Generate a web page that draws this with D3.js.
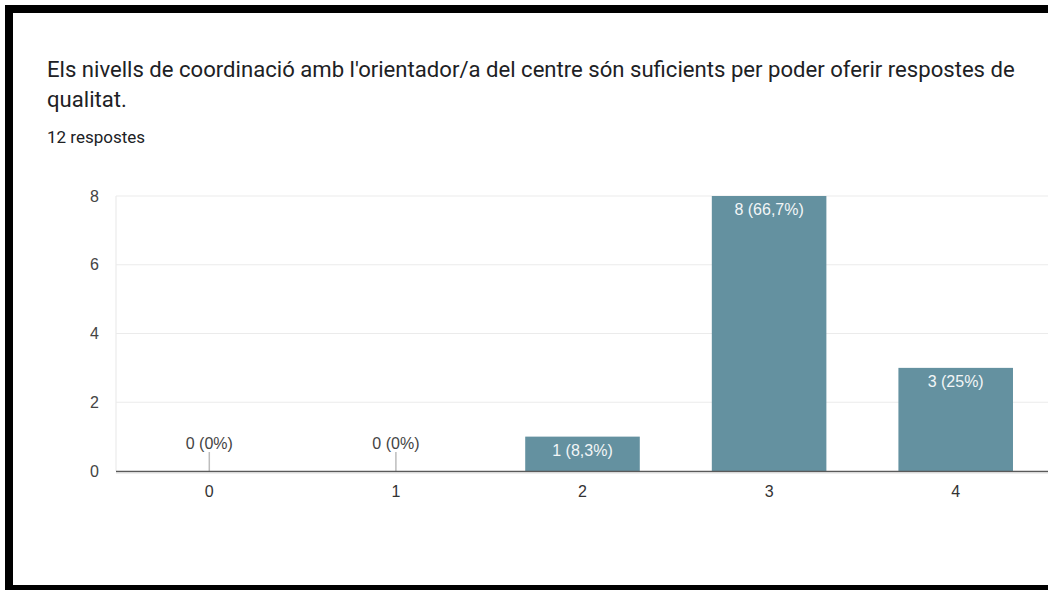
<!DOCTYPE html>
<html>
<head>
<meta charset="utf-8">
<script src="https://cdn.jsdelivr.net/npm/d3@7"></script>
<style>
html,body{margin:0;padding:0;background:#fff;}
svg{display:block;font-family:Roboto,"Noto Sans",Arial,sans-serif;}
</style>
</head>
<body>
<svg id="chart" width="1048" height="590"></svg>
<script>
const titleLines = ["Els nivells de coordinació amb l'orientador/a del centre són suficients per poder oferir respostes de", "qualitat."];
const subtitle = "12 respostes";
const categories = ["0", "1", "2", "3", "4"];
const counts = [0, 0, 1, 8, 3];
const percentLabels = ["0%", "0%", "8,3%", "66,7%", "25%"];
const yTicks = [0, 2, 4, 6, 8];

const svg = d3.select("#chart");
const W = 1048, H = 590;
const chartFont = "'Liberation Sans',Arial,sans-serif";

svg.append("rect").attr("width", W).attr("height", H).attr("fill", "#fff");

// Title
const t1 = svg.append("text").attr("x", 47).attr("y", 77)
  .attr("fill", "#202124").attr("font-size", 20).text(titleLines[0]);
const len = t1.node().getComputedTextLength();
const fs = 20 * 968 / len;
t1.attr("font-size", fs);
svg.append("text").attr("x", 47).attr("y", 107)
  .attr("fill", "#202124").attr("font-size", fs).text(titleLines[1]);
svg.append("text").attr("x", 47).attr("y", 143)
  .attr("fill", "#202124").attr("font-size", 17).text(subtitle);

// Scales
const plotLeft = 116, plotRight = 1049;
const x = d3.scaleBand().domain(categories).range([plotLeft, plotRight]).paddingInner(0.386).paddingOuter(0.193);
const y = d3.scaleLinear().domain([0, 8]).range([471, 196]);

// Gridlines
const g = svg.append("g");
g.selectAll("line.grid").data(yTicks.filter(d => d > 0)).join("line")
  .attr("x1", plotLeft).attr("x2", W)
  .attr("y1", d => y(d)).attr("y2", d => y(d))
  .attr("stroke", "#ebebeb").attr("stroke-width", 1.2);
g.append("line").attr("x1", plotLeft).attr("x2", plotLeft)
  .attr("y1", y(8)).attr("y2", y(0)).attr("stroke", "#ebebeb").attr("stroke-width", 1.2);

// Y axis labels
const yAxis = d3.axisLeft(y).tickValues(yTicks).tickSize(0).tickPadding(0).tickFormat(d3.format("d"));
const ya = svg.append("g").attr("transform", "translate(99,0)").call(yAxis);
ya.select(".domain").remove();
ya.selectAll("text").attr("font-size", 16).attr("fill", "#444").attr("font-family", chartFont);

// Bars
const data = categories.map((c, i) => ({c, v: counts[i], p: percentLabels[i]}));
svg.selectAll("rect.bar").data(data.filter(d => d.v > 0)).join("rect")
  .attr("class", "bar")
  .attr("x", d => x(d.c)).attr("width", x.bandwidth())
  .attr("y", d => y(d.v)).attr("height", d => y(0) - y(d.v))
  .attr("fill", "#6491a0");

// Zero stubs
svg.selectAll("line.stub").data(data.filter(d => d.v === 0)).join("line")
  .attr("x1", d => x(d.c) + x.bandwidth() / 2).attr("x2", d => x(d.c) + x.bandwidth() / 2)
  .attr("y1", y(0)).attr("y2", y(0) - 19)
  .attr("stroke", "#bdbdbd").attr("stroke-width", 1.5);

// Labels
svg.selectAll("text.lbl").data(data).join("text")
  .attr("x", d => x(d.c) + x.bandwidth() / 2)
  .attr("y", d => d.v > 0 ? y(d.v) + 19 : y(0) - 22)
  .attr("text-anchor", "middle").attr("font-size", 16).attr("font-family", chartFont)
  .attr("fill", d => d.v > 0 ? "#f2f6f7" : "#444")
  .text(d => `${d.v} (${d.p})`);

// X axis
svg.append("line").attr("x1", plotLeft).attr("x2", W).attr("y1", y(0) + 0.5).attr("y2", y(0) + 0.5)
  .attr("stroke", "#5a5a5a").attr("stroke-width", 1.6);
svg.append("line").attr("x1", plotLeft).attr("x2", W).attr("y1", y(0) + 2.2).attr("y2", y(0) + 2.2)
  .attr("stroke", "#e6e6e6").attr("stroke-width", 1);
const xAxis = d3.axisBottom(x).tickSize(0).tickPadding(0);
const xa = svg.append("g").attr("transform", `translate(0,${y(0) + 15})`).call(xAxis);
xa.select(".domain").remove();
xa.selectAll("text").attr("font-size", 16).attr("fill", "#333").attr("font-family", chartFont);

// Black frame
svg.append("rect").attr("x", 5).attr("y", 5).attr("width", W - 5).attr("height", 8).attr("fill", "#000");
svg.append("rect").attr("x", 5).attr("y", 5).attr("width", 8).attr("height", H - 5).attr("fill", "#000");
svg.append("rect").attr("x", 5).attr("y", 585).attr("width", W - 5).attr("height", 5).attr("fill", "#000");
</script>
</body>
</html>
